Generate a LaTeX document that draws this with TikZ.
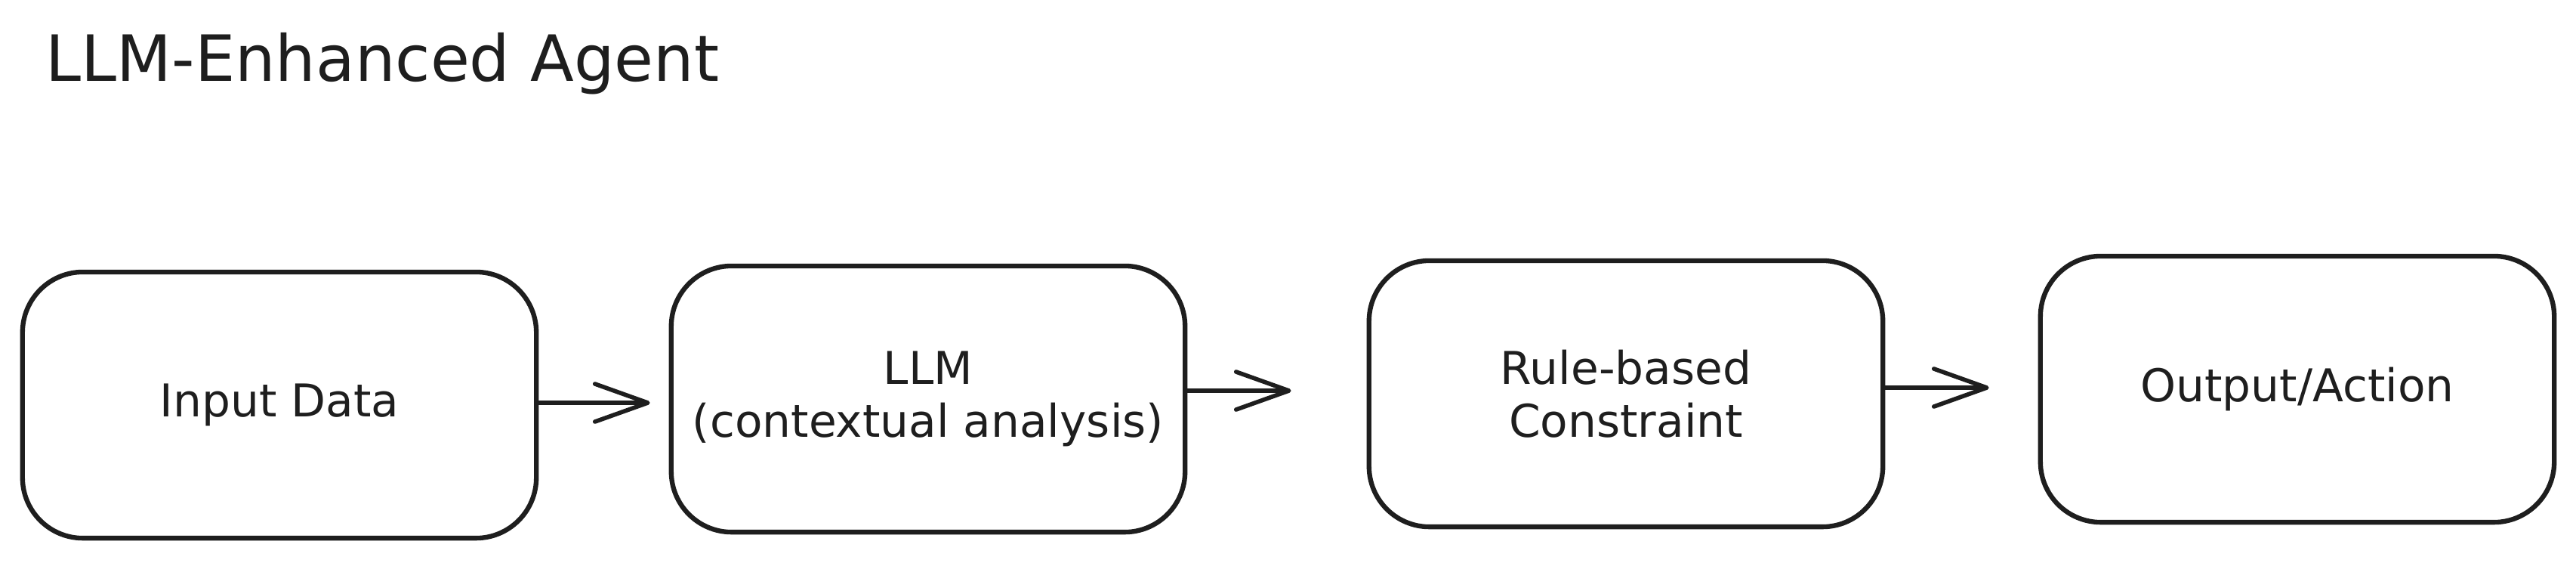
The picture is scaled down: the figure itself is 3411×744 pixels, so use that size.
\documentclass[tikz,border=0pt]{standalone}
\usepackage{fontspec}
\setmainfont{DejaVu Sans}
\usetikzlibrary{arrows.meta}
\definecolor{ink}{HTML}{1E1E1E}
\begin{document}
\begin{tikzpicture}[x=0.01cm,y=-0.01cm,
  box/.style={draw=ink, line width=1.8pt, rounded corners=0.8cm,
    minimum width=6.8cm, minimum height=3.52cm, align=center,
    font=\fontsize{17}{19.9}\selectfont, text=ink, inner sep=0pt},
  flow/.style={draw=ink, line width=1.6pt, line cap=round, line join=round,
    -{Straight Barb[length=0.7cm,width=0.5cm,line cap=round,line join=round]}}]
\useasboundingbox (0,0) rectangle (3411,744);
\fill[white] (0,0) rectangle (3411,744);
\node[anchor=base west, font=\fontsize{24}{28}\selectfont, text=ink, inner sep=0pt] (title) at (60,107) {LLM-Enhanced Agent};
\node[box] (b1) at (370,536) {Input Data};
\node[box] (b2) at (1229,528) {LLM\\(contextual analysis)};
\node[box] (b3) at (2153,521) {Rule-based\\Constraint};
\node[box] (b4) at (3042,515) {Output/Action};
\draw[flow, shorten >=0.25cm] ([yshift=0.03cm]b1.east) -- ([yshift=0.03cm]b1.east -| b2.west);
\draw[flow, shorten >=1.0cm] ([yshift=0.11cm]b2.east) -- ([yshift=0.11cm]b2.east -| b3.west);
\draw[flow, shorten >=0.65cm] ([yshift=0.08cm]b3.east) -- ([yshift=0.08cm]b3.east -| b4.west);
\end{tikzpicture}
\end{document}
